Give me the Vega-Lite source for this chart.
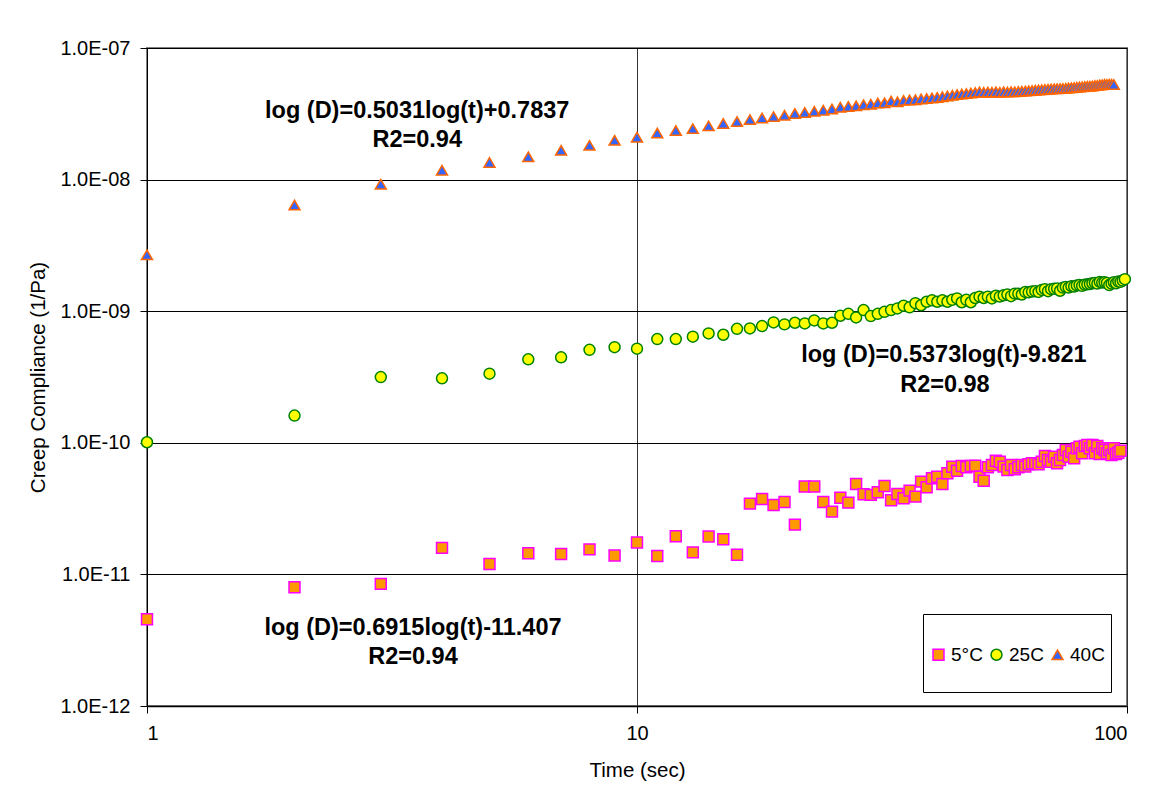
{
  "$schema": "https://vega.github.io/schema/vega-lite/v6.json",
  "width": 980,
  "height": 658,
  "autosize": {"type": "none"},
  "padding": {"left": 147, "top": 48, "right": 29, "bottom": 96},
  "background": "white",
  "config": {
    "font": "Liberation Sans",
    "view": {"stroke": "#808080", "strokeWidth": 2},
    "axis": {
      "labelFont": "Liberation Sans",
      "titleFont": "Liberation Sans",
      "labelFontSize": 20,
      "titleFontSize": 20.5,
      "titleFontWeight": "normal",
      "labelColor": "black",
      "titleColor": "black",
      "domainColor": "black",
      "tickColor": "black",
      "tickSize": 7,
      "gridColor": "black",
      "gridOpacity": 1,
      "gridWidth": 1
    }
  },
  "datasets": {
    "creep": [
      {"series": "40C", "t": 1, "D": 2.68e-9},
      {"series": "40C", "t": 2, "D": 6.40e-9},
      {"series": "40C", "t": 3, "D": 9.23e-9},
      {"series": "40C", "t": 4, "D": 1.18e-8},
      {"series": "40C", "t": 5, "D": 1.35e-8},
      {"series": "40C", "t": 6, "D": 1.49e-8},
      {"series": "40C", "t": 7, "D": 1.67e-8},
      {"series": "40C", "t": 8, "D": 1.82e-8},
      {"series": "40C", "t": 9, "D": 1.99e-8},
      {"series": "40C", "t": 10, "D": 2.10e-8},
      {"series": "40C", "t": 11, "D": 2.26e-8},
      {"series": "40C", "t": 12, "D": 2.36e-8},
      {"series": "40C", "t": 13, "D": 2.44e-8},
      {"series": "40C", "t": 14, "D": 2.56e-8},
      {"series": "40C", "t": 15, "D": 2.67e-8},
      {"series": "40C", "t": 16, "D": 2.76e-8},
      {"series": "40C", "t": 17, "D": 2.86e-8},
      {"series": "40C", "t": 18, "D": 2.94e-8},
      {"series": "40C", "t": 19, "D": 3.01e-8},
      {"series": "40C", "t": 20, "D": 3.08e-8},
      {"series": "40C", "t": 21, "D": 3.18e-8},
      {"series": "40C", "t": 22, "D": 3.24e-8},
      {"series": "40C", "t": 23, "D": 3.30e-8},
      {"series": "40C", "t": 24, "D": 3.37e-8},
      {"series": "40C", "t": 25, "D": 3.44e-8},
      {"series": "40C", "t": 26, "D": 3.55e-8},
      {"series": "40C", "t": 27, "D": 3.60e-8},
      {"series": "40C", "t": 28, "D": 3.64e-8},
      {"series": "40C", "t": 29, "D": 3.71e-8},
      {"series": "40C", "t": 30, "D": 3.74e-8},
      {"series": "40C", "t": 31, "D": 3.82e-8},
      {"series": "40C", "t": 32, "D": 3.83e-8},
      {"series": "40C", "t": 33, "D": 3.95e-8},
      {"series": "40C", "t": 34, "D": 3.90e-8},
      {"series": "40C", "t": 35, "D": 4.00e-8},
      {"series": "40C", "t": 36, "D": 4.03e-8},
      {"series": "40C", "t": 37, "D": 4.05e-8},
      {"series": "40C", "t": 38, "D": 4.10e-8},
      {"series": "40C", "t": 39, "D": 4.13e-8},
      {"series": "40C", "t": 40, "D": 4.17e-8},
      {"series": "40C", "t": 41, "D": 4.21e-8},
      {"series": "40C", "t": 42, "D": 4.27e-8},
      {"series": "40C", "t": 43, "D": 4.32e-8},
      {"series": "40C", "t": 44, "D": 4.37e-8},
      {"series": "40C", "t": 45, "D": 4.43e-8},
      {"series": "40C", "t": 46, "D": 4.47e-8},
      {"series": "40C", "t": 47, "D": 4.51e-8},
      {"series": "40C", "t": 48, "D": 4.55e-8},
      {"series": "40C", "t": 49, "D": 4.59e-8},
      {"series": "40C", "t": 50, "D": 4.64e-8},
      {"series": "40C", "t": 51, "D": 4.61e-8},
      {"series": "40C", "t": 52, "D": 4.63e-8},
      {"series": "40C", "t": 53, "D": 4.61e-8},
      {"series": "40C", "t": 54, "D": 4.65e-8},
      {"series": "40C", "t": 55, "D": 4.61e-8},
      {"series": "40C", "t": 56, "D": 4.65e-8},
      {"series": "40C", "t": 57, "D": 4.63e-8},
      {"series": "40C", "t": 58, "D": 4.66e-8},
      {"series": "40C", "t": 59, "D": 4.65e-8},
      {"series": "40C", "t": 60, "D": 4.67e-8},
      {"series": "40C", "t": 61, "D": 4.69e-8},
      {"series": "40C", "t": 62, "D": 4.71e-8},
      {"series": "40C", "t": 63, "D": 4.73e-8},
      {"series": "40C", "t": 64, "D": 4.75e-8},
      {"series": "40C", "t": 65, "D": 4.78e-8},
      {"series": "40C", "t": 66, "D": 4.80e-8},
      {"series": "40C", "t": 67, "D": 4.82e-8},
      {"series": "40C", "t": 68, "D": 4.84e-8},
      {"series": "40C", "t": 69, "D": 4.86e-8},
      {"series": "40C", "t": 70, "D": 4.89e-8},
      {"series": "40C", "t": 71, "D": 4.90e-8},
      {"series": "40C", "t": 72, "D": 4.91e-8},
      {"series": "40C", "t": 73, "D": 4.92e-8},
      {"series": "40C", "t": 74, "D": 4.93e-8},
      {"series": "40C", "t": 75, "D": 4.94e-8},
      {"series": "40C", "t": 76, "D": 4.97e-8},
      {"series": "40C", "t": 77, "D": 4.99e-8},
      {"series": "40C", "t": 78, "D": 5.01e-8},
      {"series": "40C", "t": 79, "D": 5.04e-8},
      {"series": "40C", "t": 80, "D": 5.06e-8},
      {"series": "40C", "t": 81, "D": 5.07e-8},
      {"series": "40C", "t": 82, "D": 5.09e-8},
      {"series": "40C", "t": 83, "D": 5.12e-8},
      {"series": "40C", "t": 84, "D": 5.13e-8},
      {"series": "40C", "t": 85, "D": 5.15e-8},
      {"series": "40C", "t": 86, "D": 5.18e-8},
      {"series": "40C", "t": 87, "D": 5.20e-8},
      {"series": "40C", "t": 88, "D": 5.24e-8},
      {"series": "40C", "t": 89, "D": 5.26e-8},
      {"series": "40C", "t": 90, "D": 5.30e-8},
      {"series": "40C", "t": 91, "D": 5.28e-8},
      {"series": "40C", "t": 92, "D": 5.31e-8},
      {"series": "40C", "t": 93, "D": 5.30e-8},
      {"series": "40C", "t": 94, "D": 5.28e-8},
      {"series": "25C", "t": 1, "D": 1.01e-10},
      {"series": "25C", "t": 2, "D": 1.61e-10},
      {"series": "25C", "t": 3, "D": 3.16e-10},
      {"series": "25C", "t": 4, "D": 3.09e-10},
      {"series": "25C", "t": 5, "D": 3.35e-10},
      {"series": "25C", "t": 6, "D": 4.31e-10},
      {"series": "25C", "t": 7, "D": 4.46e-10},
      {"series": "25C", "t": 8, "D": 5.09e-10},
      {"series": "25C", "t": 9, "D": 5.33e-10},
      {"series": "25C", "t": 10, "D": 5.19e-10},
      {"series": "25C", "t": 11, "D": 6.14e-10},
      {"series": "25C", "t": 12, "D": 6.14e-10},
      {"series": "25C", "t": 13, "D": 6.40e-10},
      {"series": "25C", "t": 14, "D": 6.78e-10},
      {"series": "25C", "t": 15, "D": 6.62e-10},
      {"series": "25C", "t": 16, "D": 7.35e-10},
      {"series": "25C", "t": 17, "D": 7.40e-10},
      {"series": "25C", "t": 18, "D": 7.71e-10},
      {"series": "25C", "t": 19, "D": 8.22e-10},
      {"series": "25C", "t": 20, "D": 7.94e-10},
      {"series": "25C", "t": 21, "D": 8.17e-10},
      {"series": "25C", "t": 22, "D": 8.07e-10},
      {"series": "25C", "t": 23, "D": 8.51e-10},
      {"series": "25C", "t": 24, "D": 8.07e-10},
      {"series": "25C", "t": 25, "D": 8.17e-10},
      {"series": "25C", "t": 26, "D": 9.23e-10},
      {"series": "25C", "t": 27, "D": 9.55e-10},
      {"series": "25C", "t": 28, "D": 8.97e-10},
      {"series": "25C", "t": 29, "D": 1.02e-9},
      {"series": "25C", "t": 30, "D": 9.18e-10},
      {"series": "25C", "t": 31, "D": 9.55e-10},
      {"series": "25C", "t": 32, "D": 9.89e-10},
      {"series": "25C", "t": 33, "D": 1.02e-9},
      {"series": "25C", "t": 34, "D": 1.05e-9},
      {"series": "25C", "t": 35, "D": 1.10e-9},
      {"series": "25C", "t": 36, "D": 1.07e-9},
      {"series": "25C", "t": 37, "D": 1.15e-9},
      {"series": "25C", "t": 38, "D": 1.11e-9},
      {"series": "25C", "t": 39, "D": 1.18e-9},
      {"series": "25C", "t": 40, "D": 1.21e-9},
      {"series": "25C", "t": 41, "D": 1.18e-9},
      {"series": "25C", "t": 42, "D": 1.21e-9},
      {"series": "25C", "t": 43, "D": 1.18e-9},
      {"series": "25C", "t": 44, "D": 1.22e-9},
      {"series": "25C", "t": 45, "D": 1.25e-9},
      {"series": "25C", "t": 46, "D": 1.17e-9},
      {"series": "25C", "t": 47, "D": 1.22e-9},
      {"series": "25C", "t": 48, "D": 1.17e-9},
      {"series": "25C", "t": 49, "D": 1.26e-9},
      {"series": "25C", "t": 50, "D": 1.29e-9},
      {"series": "25C", "t": 51, "D": 1.26e-9},
      {"series": "25C", "t": 52, "D": 1.29e-9},
      {"series": "25C", "t": 53, "D": 1.25e-9},
      {"series": "25C", "t": 54, "D": 1.31e-9},
      {"series": "25C", "t": 55, "D": 1.29e-9},
      {"series": "25C", "t": 56, "D": 1.32e-9},
      {"series": "25C", "t": 57, "D": 1.34e-9},
      {"series": "25C", "t": 58, "D": 1.30e-9},
      {"series": "25C", "t": 59, "D": 1.36e-9},
      {"series": "25C", "t": 60, "D": 1.36e-9},
      {"series": "25C", "t": 61, "D": 1.34e-9},
      {"series": "25C", "t": 62, "D": 1.40e-9},
      {"series": "25C", "t": 63, "D": 1.39e-9},
      {"series": "25C", "t": 64, "D": 1.41e-9},
      {"series": "25C", "t": 65, "D": 1.42e-9},
      {"series": "25C", "t": 66, "D": 1.40e-9},
      {"series": "25C", "t": 67, "D": 1.45e-9},
      {"series": "25C", "t": 68, "D": 1.47e-9},
      {"series": "25C", "t": 69, "D": 1.42e-9},
      {"series": "25C", "t": 70, "D": 1.47e-9},
      {"series": "25C", "t": 71, "D": 1.48e-9},
      {"series": "25C", "t": 72, "D": 1.49e-9},
      {"series": "25C", "t": 73, "D": 1.43e-9},
      {"series": "25C", "t": 74, "D": 1.51e-9},
      {"series": "25C", "t": 75, "D": 1.53e-9},
      {"series": "25C", "t": 76, "D": 1.51e-9},
      {"series": "25C", "t": 77, "D": 1.55e-9},
      {"series": "25C", "t": 78, "D": 1.54e-9},
      {"series": "25C", "t": 79, "D": 1.57e-9},
      {"series": "25C", "t": 80, "D": 1.58e-9},
      {"series": "25C", "t": 81, "D": 1.56e-9},
      {"series": "25C", "t": 82, "D": 1.59e-9},
      {"series": "25C", "t": 83, "D": 1.60e-9},
      {"series": "25C", "t": 84, "D": 1.61e-9},
      {"series": "25C", "t": 85, "D": 1.63e-9},
      {"series": "25C", "t": 86, "D": 1.64e-9},
      {"series": "25C", "t": 87, "D": 1.62e-9},
      {"series": "25C", "t": 88, "D": 1.67e-9},
      {"series": "25C", "t": 89, "D": 1.65e-9},
      {"series": "25C", "t": 90, "D": 1.66e-9},
      {"series": "25C", "t": 91, "D": 1.64e-9},
      {"series": "25C", "t": 92, "D": 1.58e-9},
      {"series": "25C", "t": 93, "D": 1.62e-9},
      {"series": "25C", "t": 94, "D": 1.66e-9},
      {"series": "25C", "t": 95, "D": 1.63e-9},
      {"series": "25C", "t": 96, "D": 1.68e-9},
      {"series": "25C", "t": 97, "D": 1.67e-9},
      {"series": "25C", "t": 98, "D": 1.71e-9},
      {"series": "25C", "t": 99, "D": 1.75e-9},
      {"series": "5°C", "t": 1, "D": 4.57e-12},
      {"series": "5°C", "t": 2, "D": 8.00e-12},
      {"series": "5°C", "t": 3, "D": 8.47e-12},
      {"series": "5°C", "t": 4, "D": 1.59e-11},
      {"series": "5°C", "t": 5, "D": 1.20e-11},
      {"series": "5°C", "t": 6, "D": 1.45e-11},
      {"series": "5°C", "t": 7, "D": 1.43e-11},
      {"series": "5°C", "t": 8, "D": 1.55e-11},
      {"series": "5°C", "t": 9, "D": 1.39e-11},
      {"series": "5°C", "t": 10, "D": 1.75e-11},
      {"series": "5°C", "t": 11, "D": 1.38e-11},
      {"series": "5°C", "t": 12, "D": 1.95e-11},
      {"series": "5°C", "t": 13, "D": 1.47e-11},
      {"series": "5°C", "t": 14, "D": 1.94e-11},
      {"series": "5°C", "t": 15, "D": 1.85e-11},
      {"series": "5°C", "t": 16, "D": 1.41e-11},
      {"series": "5°C", "t": 17, "D": 3.45e-11},
      {"series": "5°C", "t": 18, "D": 3.74e-11},
      {"series": "5°C", "t": 19, "D": 3.37e-11},
      {"series": "5°C", "t": 20, "D": 3.55e-11},
      {"series": "5°C", "t": 21, "D": 2.39e-11},
      {"series": "5°C", "t": 22, "D": 4.65e-11},
      {"series": "5°C", "t": 23, "D": 4.65e-11},
      {"series": "5°C", "t": 24, "D": 3.55e-11},
      {"series": "5°C", "t": 25, "D": 3.00e-11},
      {"series": "5°C", "t": 26, "D": 3.83e-11},
      {"series": "5°C", "t": 27, "D": 3.51e-11},
      {"series": "5°C", "t": 28, "D": 4.86e-11},
      {"series": "5°C", "t": 29, "D": 4.06e-11},
      {"series": "5°C", "t": 30, "D": 4.02e-11},
      {"series": "5°C", "t": 31, "D": 4.21e-11},
      {"series": "5°C", "t": 32, "D": 4.70e-11},
      {"series": "5°C", "t": 33, "D": 3.66e-11},
      {"series": "5°C", "t": 34, "D": 4.08e-11},
      {"series": "5°C", "t": 35, "D": 3.79e-11},
      {"series": "5°C", "t": 36, "D": 4.33e-11},
      {"series": "5°C", "t": 37, "D": 3.90e-11},
      {"series": "5°C", "t": 38, "D": 5.07e-11},
      {"series": "5°C", "t": 39, "D": 4.59e-11},
      {"series": "5°C", "t": 40, "D": 5.38e-11},
      {"series": "5°C", "t": 41, "D": 5.53e-11},
      {"series": "5°C", "t": 42, "D": 4.86e-11},
      {"series": "5°C", "t": 43, "D": 5.86e-11},
      {"series": "5°C", "t": 44, "D": 6.58e-11},
      {"series": "5°C", "t": 45, "D": 6.14e-11},
      {"series": "5°C", "t": 46, "D": 6.67e-11},
      {"series": "5°C", "t": 47, "D": 6.52e-11},
      {"series": "5°C", "t": 48, "D": 6.67e-11},
      {"series": "5°C", "t": 49, "D": 6.70e-11},
      {"series": "5°C", "t": 50, "D": 5.53e-11},
      {"series": "5°C", "t": 51, "D": 5.15e-11},
      {"series": "5°C", "t": 52, "D": 6.52e-11},
      {"series": "5°C", "t": 53, "D": 6.78e-11},
      {"series": "5°C", "t": 54, "D": 7.31e-11},
      {"series": "5°C", "t": 55, "D": 7.19e-11},
      {"series": "5°C", "t": 56, "D": 6.59e-11},
      {"series": "5°C", "t": 57, "D": 6.21e-11},
      {"series": "5°C", "t": 58, "D": 6.78e-11},
      {"series": "5°C", "t": 59, "D": 6.30e-11},
      {"series": "5°C", "t": 60, "D": 6.52e-11},
      {"series": "5°C", "t": 61, "D": 6.78e-11},
      {"series": "5°C", "t": 62, "D": 6.59e-11},
      {"series": "5°C", "t": 63, "D": 6.87e-11},
      {"series": "5°C", "t": 64, "D": 6.98e-11},
      {"series": "5°C", "t": 65, "D": 6.98e-11},
      {"series": "5°C", "t": 66, "D": 6.87e-11},
      {"series": "5°C", "t": 67, "D": 7.19e-11},
      {"series": "5°C", "t": 68, "D": 7.94e-11},
      {"series": "5°C", "t": 69, "D": 7.40e-11},
      {"series": "5°C", "t": 70, "D": 7.19e-11},
      {"series": "5°C", "t": 71, "D": 7.83e-11},
      {"series": "5°C", "t": 72, "D": 6.98e-11},
      {"series": "5°C", "t": 73, "D": 7.40e-11},
      {"series": "5°C", "t": 74, "D": 8.07e-11},
      {"series": "5°C", "t": 75, "D": 8.81e-11},
      {"series": "5°C", "t": 76, "D": 7.83e-11},
      {"series": "5°C", "t": 77, "D": 8.55e-11},
      {"series": "5°C", "t": 78, "D": 7.62e-11},
      {"series": "5°C", "t": 79, "D": 9.08e-11},
      {"series": "5°C", "t": 80, "D": 9.33e-11},
      {"series": "5°C", "t": 81, "D": 8.32e-11},
      {"series": "5°C", "t": 82, "D": 9.46e-11},
      {"series": "5°C", "t": 83, "D": 9.62e-11},
      {"series": "5°C", "t": 84, "D": 9.08e-11},
      {"series": "5°C", "t": 85, "D": 9.62e-11},
      {"series": "5°C", "t": 86, "D": 8.32e-11},
      {"series": "5°C", "t": 87, "D": 9.46e-11},
      {"series": "5°C", "t": 88, "D": 8.22e-11},
      {"series": "5°C", "t": 89, "D": 9.08e-11},
      {"series": "5°C", "t": 90, "D": 8.81e-11},
      {"series": "5°C", "t": 91, "D": 8.32e-11},
      {"series": "5°C", "t": 92, "D": 8.81e-11},
      {"series": "5°C", "t": 93, "D": 8.07e-11},
      {"series": "5°C", "t": 94, "D": 9.08e-11},
      {"series": "5°C", "t": 95, "D": 8.22e-11},
      {"series": "5°C", "t": 96, "D": 8.41e-11},
      {"series": "5°C", "t": 97, "D": 8.71e-11}
    ],
    "notes": [
      {"t": 3.56, "D": 3.30e-8, "text": "log (D)=0.5031log(t)+0.7837"},
      {"t": 3.56, "D": 1.99e-8, "text": "R2=0.94"},
      {"t": 42.3, "D": 4.65e-10, "text": "log (D)=0.5373log(t)-9.821"},
      {"t": 42.5, "D": 2.75e-10, "text": "R2=0.98"},
      {"t": 3.49, "D": 3.93e-12, "text": "log (D)=0.6915log(t)-11.407"},
      {"t": 3.49, "D": 2.37e-12, "text": "R2=0.94"}
    ]
  },
  "layer": [
    {
      "data": {"name": "creep"},
      "mark": {"type": "point", "filled": false, "strokeWidth": 1.5, "fillOpacity": 1, "opacity": 1},
      "encoding": {
        "x": {
          "field": "t",
          "type": "quantitative",
          "title": "Time (sec)",
          "scale": {"type": "log", "domain": [1, 100], "nice": false},
          "axis": {
            "values": [1, 10, 100],
            "format": "d",
            "labelPadding": 10,
            "titlePadding": 17,
            "gridColor": "#333333",
            "domainWidth": 1.5
          }
        },
        "y": {
          "field": "D",
          "type": "quantitative",
          "title": "Creep Compliance (1/Pa)",
          "scale": {"type": "log", "domain": [1e-12, 1e-7], "nice": false},
          "axis": {
            "values": [1e-12, 1e-11, 1e-10, 1e-9, 1e-8, 1e-7],
            "labelExpr": "'1.0E-' + (round(-log(datum.value)/LN10) < 10 ? '0' : '') + round(-log(datum.value)/LN10)",
            "labelPadding": 10,
            "titlePadding": 11
          }
        },
        "shape": {
          "field": "series",
          "type": "nominal",
          "scale": {"domain": ["5°C", "25C", "40C"], "range": ["square", "circle", "triangle-up"]},
          "legend": {
            "orient": "none",
            "legendX": 776,
            "legendY": 566,
            "direction": "horizontal",
            "title": " ",
            "titleFontSize": 25,
            "titlePadding": 0,
            "strokeColor": "black",
            "fillColor": "white",
            "padding": 6,
            "columnPadding": 4,
            "labelOffset": 3,
            "labelFontSize": 19,
            "labelFont": "Liberation Sans",
            "labelColor": "black",
            "symbolSize": 120,
            "symbolStrokeWidth": 1.5,
            "labelExpr": "[datum.label, '']"
          }
        },
        "fill": {
          "field": "series",
          "type": "nominal",
          "scale": {"domain": ["5°C", "25C", "40C"], "range": ["#FF9900", "#FFFF00", "#3366FF"]}
        },
        "stroke": {
          "field": "series",
          "type": "nominal",
          "scale": {"domain": ["5°C", "25C", "40C"], "range": ["#FF00FF", "#008000", "#FF6600"]}
        },
        "size": {"value": 120}
      }
    },
    {
      "data": {"name": "notes"},
      "mark": {"type": "text", "fontSize": 23.5, "fontWeight": "bold", "font": "Liberation Sans", "align": "center", "baseline": "middle", "color": "black"},
      "encoding": {
        "x": {"field": "t", "type": "quantitative"},
        "y": {"field": "D", "type": "quantitative"},
        "text": {"field": "text", "type": "nominal"}
      }
    }
  ]
}
